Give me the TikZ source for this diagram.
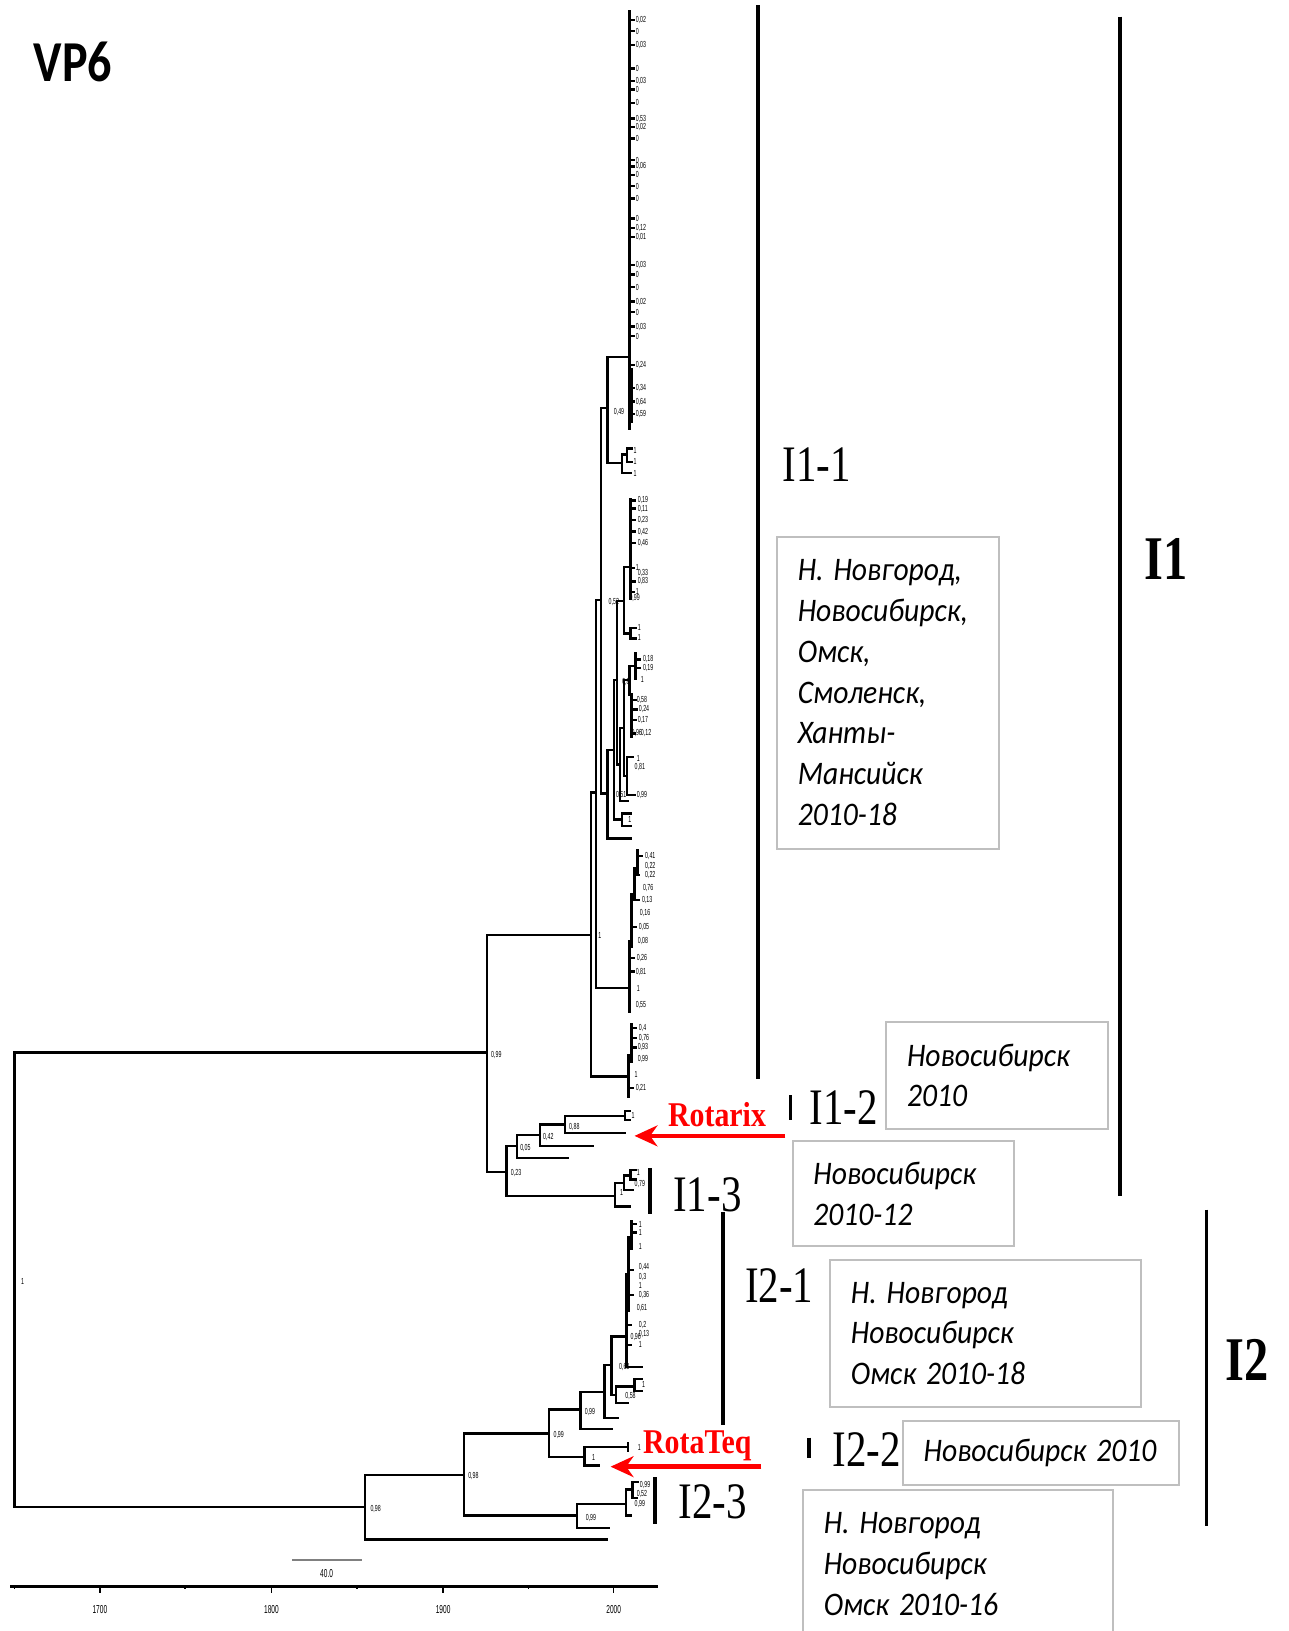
\documentclass[tikz,border=0pt]{standalone}
\usepackage{fontspec}
\setmainfont{Liberation Serif}
\newfontfamily\calfont{Carlito}
\newfontfamily\arfont{Liberation Sans}
\usetikzlibrary{arrows.meta}
\definecolor{boxgray}{HTML}{BFBFBF}
\definecolor{vacred}{HTML}{FF0000}
\newcommand{\sqz}[1]{\scalebox{0.9}[1]{#1}}

\begin{document}
\begin{tikzpicture}[
  x=0.02cm, y=-0.02cm,
  branch/.style={line width=1.3pt, line cap=rect},
  comb/.style={line width=1.7pt, line cap=rect},
  cbar/.style={line width=2pt},
  sv/.style={font=\arfont\fontsize{4.8}{5}\selectfont, xscale=0.6, anchor=west, inner sep=0pt},
  ticklab/.style={font=\arfont\fontsize{6.3}{7}\selectfont, xscale=0.57, inner sep=0pt},
  cladelab/.style={font=\fontsize{28}{30}\selectfont, xscale=0.8, anchor=base west, inner sep=0pt},
  grouplab/.style={font=\bfseries\fontsize{34}{36}\selectfont, xscale=0.78, anchor=base west, inner sep=0pt},
  vaclab/.style={font=\bfseries\fontsize{19}{21}\selectfont, text=vacred, xscale=0.86, anchor=base west, inner sep=0pt},
  infobox/.style={draw=boxgray, line width=1.1pt, anchor=north west, align=left, inner xsep=0.4cm, inner ysep=0pt,
    font=\calfont\itshape\fontsize{18}{22.3}\selectfont},
  vacarrow/.style={-{Stealth[length=4.4mm,width=4mm,inset=1.4mm]}, draw=vacred, line width=2.6pt}
]
\clip (0,0) rectangle (1239,1568);

\node[font=\calfont\bfseries\fontsize{31.7}{34}\selectfont, xscale=0.83, anchor=base west, inner sep=0pt] (vp6) at (32,78) {VP6};

% tree: vertical and horizontal pieces
\foreach \x/\a/\b in {14/1012/1449, 468/899/1127, 351/1418/1480, 446/1378/1457,
  568/762/1035, 573/577/950, 578/392/763, 584/343/445, 598/437/455, 603/431/444,
  584/721/806, 590/654/788, 598/782/794, 593/578/735, 600/545/609, 606/604/614,
  596/700/770, 600/654/746, 605/640/668, 603/728/764,
  487/1102/1150, 497/1091/1113, 519/1081/1102, 543/1073/1089, 601/1068/1077,
  591/1137/1160, 600/1130/1144, 606/1125/1134,
  528/1355/1401, 558/1338/1374, 581/1312/1363, 588/1285/1341, 592/1333/1349, 610/1326/1337,
  562/1391/1409, 555/1446/1469, 602/1432/1457, 608/1425/1440, 604/1387/1395}
  \draw[branch] (\x,\a) -- (\x,\b);
\foreach \y/\a/\b in {1012/14/468, 1449/14/351, 899/468/568, 1127/468/487,
  1418/351/446, 1480/351/583, 1378/446/528, 1457/446/555,
  762/568/573, 1035/568/604, 577/573/578, 950/573/605, 392/578/584, 763/578/584,
  343/584/605, 445/584/598, 437/598/603, 455/598/606, 431/603/607, 444/603/607,
  721/584/590, 806/584/606, 654/590/593, 788/590/598, 782/598/606, 794/598/606,
  578/593/600, 735/593/596, 545/600/606, 609/600/606, 604/606/611, 614/606/611,
  700/596/600, 770/596/604, 654/600/605, 746/600/603, 640/605/611, 668/605/607,
  728/603/608, 764/603/610,
  1102/487/497, 1150/487/591, 1091/497/519, 1113/497/546, 1081/519/543, 1102/519/570,
  1073/543/601, 1089/543/601, 1068/601/605, 1077/601/605,
  1137/591/600, 1160/591/605, 1130/600/606, 1144/600/608, 1125/606/611, 1134/606/611,
  1355/528/558, 1401/528/562, 1338/558/581, 1374/558/588, 1312/581/588, 1363/581/594,
  1285/588/602, 1341/588/592, 1333/592/610, 1349/592/604, 1326/610/617, 1337/610/617,
  1314/602/617, 1391/562/604, 1409/562/576, 1446/555/602, 1469/555/585,
  1432/602/608, 1457/602/606, 1425/608/613, 1440/608/612}
  \draw[branch] (\a,\y) -- (\b,\y);

% tip combs
\foreach \x/\a/\b in {605/11/412, 607/355/405, 606/480/575, 611/628/652, 607/668/708,
  605/905/972, 607/860/910, 610/835/865, 613/818/840, 604/1015/1054, 607/985/1020,
  602/1225/1314, 604/1190/1260, 607/1174/1200}
  \draw[comb] (\x,\a) -- (\x,\b);
\foreach \y in {19,30,43,66,78,86,99,114,122,133,154,160,168,179,191,210,219,228,255,264,276,290,300,314,323,351,373,386,398}
  \draw[branch] (605,\y) -- (609,\y);
\foreach \y/\a/\b in {481/606/610, 489/606/610, 500/606/610, 511/606/610, 522/606/610, 546/606/609, 559/606/610, 569/606/609,
  634/611/615, 642/611/615, 673/607/611, 682/607/612, 692/607/611, 705/607/610,
  905/605/607, 860/607/610, 835/610/613, 823/613/617, 841/610/614, 865/610/614, 891/607/611, 921/605/609, 934/605/609,
  1015/604/607, 988/607/611, 998/607/611, 1007/607/611, 1046/604/608,
  1240/602/604, 1195/604/607, 1177/607/611, 1185/607/611, 1221/604/608, 1245/604/608, 1274/602/606, 1293/602/606}
  \draw[branch] (\a,\y) -- (\b,\y);

% support values
\foreach \y/\t [count=\i] in {19/{0,02},30/0,43/{0,03},66/0,78/{0,03},86/0,99/0,114/{0,53},122/{0,02},133/0,
  154/0,160/{0,06},168/0,179/0,191/0,210/0,219/{0,12},228/{0,01},255/{0,03},264/0,276/0,290/{0,02},300/0,
  314/{0,03},323/0,351/{0,24},373/{0,34},386/{0,64},398/{0,59}}
  \node[sv] (sa\i) at (611,\y) {\t};
\foreach \x/\y/\t [count=\i] in {609/433/1, 609/444/1, 609/455/1, 590/396/{0,49},
  613/481/{0,19}, 613/489/{0,11}, 613/500/{0,23}, 613/511/{0,42}, 613/522/{0,46}, 611/546/1, 613/551/{0,33},
  613/559/{0,83}, 611/569/1, 605/575/{0,99}, 585/579/{0,52}, 613/603/1, 613/613/1,
  618/634/{0,18}, 618/642/{0,19}, 616/653/1, 598/656/{0,8}, 612/673/{0,58}, 614/682/{0,24}, 613/692/{0,17},
  607/705/{0,96}, 616/705/{0,12}, 612/729/1, 610/737/{0,81}, 612/764/{0,99}, 592/764/{0,51}, 604/788/1,
  620/823/{0,41}, 620/833/{0,22}, 620/841/{0,22}, 618/854/{0,76}, 617/865/{0,13}, 615/878/{0,16},
  614/891/{0,05}, 613/905/{0,08}, 612/921/{0,26}, 611/934/{0,81}, 612/950/1, 611/966/{0,55}, 575/899/1,
  614/988/{0,4}, 614/998/{0,76}, 613/1007/{0,93}, 613/1018/{0,99}, 610/1033/1, 611/1046/{0,21},
  472/1014/{0,99}, 607/1072/1, 547/1083/{0,88}, 522/1093/{0,42}, 500/1104/{0,05}, 491/1128/{0,23},
  612/1127/1, 610/1138/{0,79}, 596/1146/1, 20/1232/1,
  614/1177/1, 614/1185/1, 614/1198/1, 614/1218/{0,44}, 614/1228/{0,3}, 614/1236/1, 614/1245/{0,36},
  612/1257/{0,61}, 614/1274/{0,2}, 614/1282/{0,13}, 606/1285/{0,96}, 614/1293/1,
  595/1314/{0,63}, 601/1342/{0,58}, 617/1331/1, 356/1451/{0,98}, 450/1419/{0,98}, 532/1380/{0,99},
  562/1357/{0,99}, 613/1392/1, 569/1401/1, 563/1459/{0,99}, 615/1428/{0,99}, 612/1436/{0,52}, 610/1446/{0,99}}
  \node[sv] (sb\i) at (\x,\y) {\t};

% time axis and scale bar
\draw[line width=1.5pt] (10,1525) -- (633,1525);
\foreach \x/\t in {96/1700, 261/1800, 426/1900, 590/2000} {
  \draw[line width=0.8pt] (\x,1525) -- (\x,1531);
  \node[ticklab] (yr\t) at (\x,1547) {\t};
}
\foreach \x in {14,178,343,508}
  \draw[line width=0.8pt] (\x,1525) -- (\x,1528);
\draw[line width=1.3pt, gray] (281,1500) -- (348,1500);
\node[ticklab] (scale) at (314,1513) {40.0};

% clade bars
\draw[cbar] (729,5) -- (729,1037);
\draw[cbar] (1077,16) -- (1077,1150);
\draw[cbar] (1160,1163) -- (1160,1467);
\draw[cbar] (760,1053) -- (760,1077);
\draw[cbar] (625,1123) -- (625,1167);
\draw[cbar] (695,1165) -- (695,1370);
\draw[cbar] (778,1382) -- (778,1402);
\draw[cbar] (630,1420) -- (630,1465);

\node[cladelab] (i11) at (752,463) {I1-1};
\node[cladelab] (i12) at (778,1081) {I1-2};
\node[cladelab] (i13) at (647,1165) {I1-3};
\node[cladelab] (i21) at (716,1252) {I2-1};
\node[cladelab] (i22) at (800,1410) {I2-2};
\node[cladelab] (i23) at (652,1460) {I2-3};
\node[grouplab] (i1) at (1100,557) {I1};
\node[grouplab] (i2) at (1178,1327) {I2};

\node[infobox, text width=3.46cm, minimum height=6cm] (box11) at (746,515)
  {\sqz{Н. Новгород,}\\\sqz{Новосибирск,}\\\sqz{Омск,}\\\sqz{Смоленск,}\\\sqz{Ханты-}\\\sqz{Мансийск}\\\sqz{2010-18}};
\node[infobox, text width=3.46cm, minimum height=2.04cm] (box12) at (851,982)
  {\sqz{Новосибирск}\\\sqz{2010}};
\node[infobox, text width=3.46cm, minimum height=2.02cm] (box13) at (761,1096)
  {\sqz{Новосибирск}\\\sqz{2010-12}};
\node[infobox, text width=5.18cm, minimum height=2.84cm] (box21) at (797,1210)
  {\sqz{Н. Новгород}\\\sqz{Новосибирск}\\\sqz{Омск 2010-18}};
\node[infobox, text width=4.52cm, minimum height=1.24cm] (box22) at (867,1365)
  {\sqz{Новосибирск 2010}};
\node[infobox, text width=5.16cm, minimum height=2.86cm] (box23) at (771,1431)
  {\sqz{Н. Новгород}\\\sqz{Новосибирск}\\\sqz{Омск 2010-16}};

\node[vaclab] (rotarix) at (642,1083) {Rotarix};
\node[vaclab] (rotateq) at (618,1397) {RotaTeq};
\coordinate (rxs) at (755,1092);
\coordinate (rxe) at (610,1092);
\coordinate (rts) at (732,1410);
\coordinate (rte) at (587,1410);
\draw[vacarrow] (rxs) -- (rxe);
\draw[vacarrow] (rts) -- (rte);
\end{tikzpicture}
\end{document}
